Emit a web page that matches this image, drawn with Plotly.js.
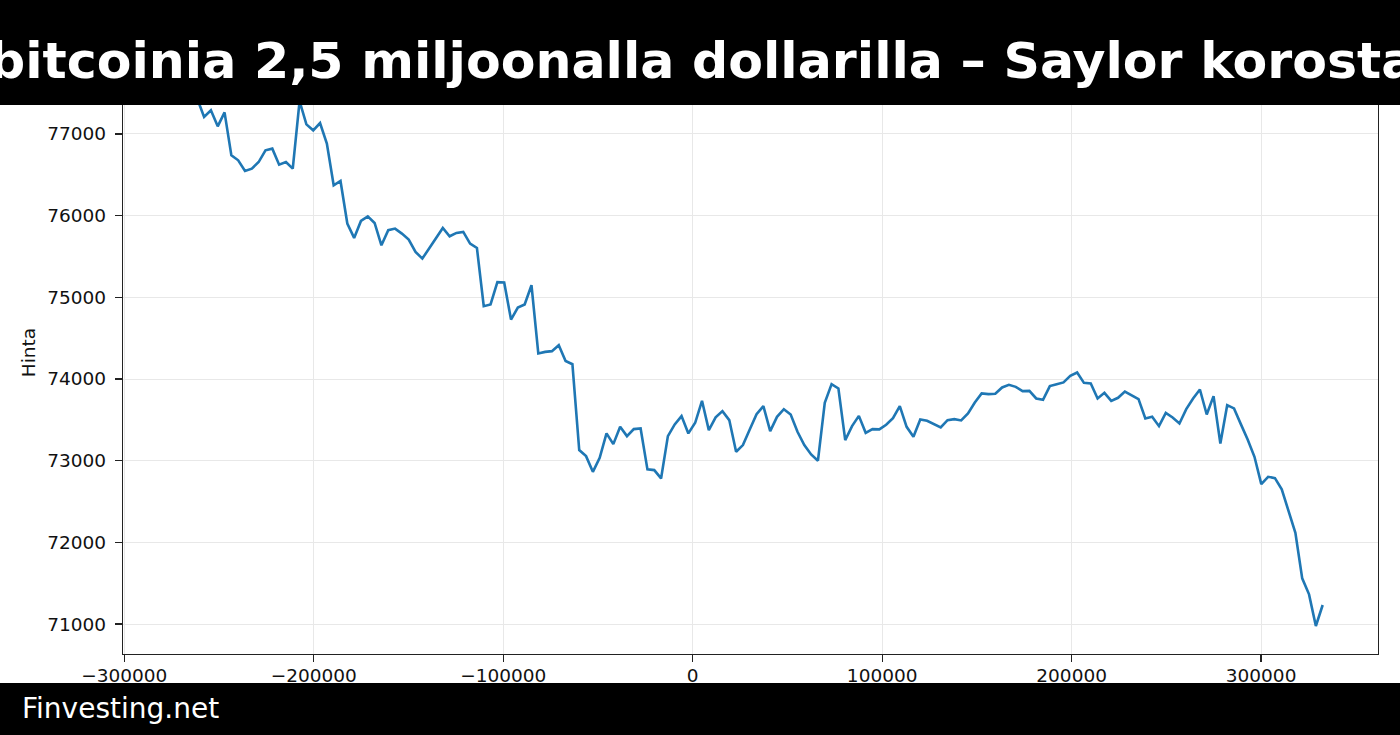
<!DOCTYPE html>
<html>
<head>
<meta charset="utf-8">
<script src="https://cdn.plot.ly/plotly-3.0.1.min.js"></script>
<style>
  body { margin: 0; background: #fff; }
  #chart { width: 1400px; height: 735px; }
</style>
</head>
<body>
<div id="chart"></div>
<script>
// Hourly price points over one week (169 points), x = seconds offset
var startSec = -272300;
var stepSec = 3600;
var hinta = [
    77680, 77560, 77520, 77430,
    77207, 77289, 77093, 77264, 76738, 76677, 76546, 76575, 76656, 76800,
    76820, 76624, 76656, 76575, 77400, 77117, 77044, 77133, 76881, 76371,
    76424, 75903, 75727, 75935, 75990, 75910,
    75637, 75821, 75841, 75780, 75707, 75555, 75474, 75597, 75719, 75849,
    75747, 75788, 75800, 75658, 75604, 74891, 74912, 75185, 75181, 74728,
    74875, 74912, 75148, 74313, 74332, 74341, 74414, 74220, 74181,
    73130, 73056, 72864, 73036, 73334, 73203, 73415, 73301, 73387, 73395,
    72894, 72885, 72783, 73301, 73444, 73546, 73334, 73464, 73733, 73374,
    73530, 73607, 73497, 73109, 73191, 73383, 73570,
    73668, 73362, 73537, 73631, 73566, 73354, 73191, 73077, 73000, 73708,
    73937, 73884, 73252, 73423, 73549, 73341, 73387, 73383,
    73440, 73520, 73668, 73415, 73293, 73505, 73488, 73448, 73407, 73497,
    73509, 73493, 73578, 73713, 73823, 73815, 73819, 73897, 73929, 73904,
    73852, 73855, 73762, 73745, 73913, 73937, 73958, 74039, 74080, 73953,
    73945, 73762, 73831, 73733, 73770, 73847, 73802, 73753, 73517, 73537,
    73423, 73586, 73530, 73456, 73631, 73762, 73872, 73566, 73790, 73211,
    73680, 73640, 73448, 73260, 73048, 72714, 72803, 72787, 72649, 72396,
    72118, 71560, 71364, 70977, 71234
];
var aika = hinta.map(function(v, i) { return startSec + i * stepSec; });

var xTicks = [-300000, -200000, -100000, 0, 100000, 200000, 300000];
var yTicks = [71000, 72000, 73000, 74000, 75000, 76000, 77000];

var otsikko = 'bitcoinia 2,5 miljoonalla dollarilla – Saylor korostaa';
var lahde = 'Finvesting.net';

var trace = {
    x: aika,
    y: hinta,
    type: 'scatter',
    mode: 'lines',
    line: { color: '#1f77b4', width: 2.6 },
    hoverinfo: 'x+y'
};

var axisFont = { family: 'DejaVu Sans', size: 18.5, color: '#111' };

// plot area in pixels: left 123, right 1378, top 51, bottom 654
var plotH = 603, plotW = 1255;
function px2paperX(px) { return (px - 123) / plotW; }
function px2paperY(py) { return (654 - py) / plotH; }

var layout = {
    width: 1400,
    height: 735,
    margin: { l: 123, r: 22, t: 51, b: 81 },
    paper_bgcolor: '#ffffff',
    plot_bgcolor: '#ffffff',
    showlegend: false,
    xaxis: {
        range: [-300700, 361700],
        tickmode: 'array', tickvals: xTicks,
        tickformat: 'd',
        ticks: 'outside', ticklen: 7, tickwidth: 1.3, tickcolor: '#222',
        ticklabelstandoff: -3,
        showline: true, linecolor: '#222', linewidth: 1.3, mirror: true,
        showgrid: true, gridcolor: '#e8e8e8', gridwidth: 1,
        zeroline: false,
        tickfont: axisFont
    },
    yaxis: {
        range: [70634, 78015],
        tickmode: 'array', tickvals: yTicks,
        tickformat: 'd',
        ticks: 'outside', ticklen: 7, tickwidth: 1.3, tickcolor: '#222',
        ticklabelstandoff: 5,
        showline: true, linecolor: '#222', linewidth: 1.3, mirror: true,
        showgrid: true, gridcolor: '#e8e8e8', gridwidth: 1,
        zeroline: false,
        tickfont: axisFont,
        title: { text: 'Hinta', font: axisFont, standoff: 6 }
    },
    shapes: [
        // header bar
        { type: 'rect', xref: 'paper', yref: 'paper', layer: 'above',
          x0: -0.2, x1: 1.2, y0: px2paperY(105), y1: 1.2,
          fillcolor: '#000000', line: { width: 0 } },
        // footer bar
        { type: 'rect', xref: 'paper', yref: 'paper', layer: 'above',
          x0: -0.2, x1: 1.2, y0: -0.2, y1: px2paperY(683),
          fillcolor: '#000000', line: { width: 0 } }
    ],
    annotations: [
        { text: otsikko, xref: 'paper', yref: 'paper',
          x: px2paperX(-13), xanchor: 'left',
          y: px2paperY(60), yanchor: 'middle',
          showarrow: false,
          font: { family: 'DejaVu Sans', size: 50.6, color: '#ffffff', weight: 'bold' } },
        { text: lahde, xref: 'paper', yref: 'paper',
          x: px2paperX(20), xanchor: 'left',
          y: px2paperY(708), yanchor: 'middle',
          showarrow: false,
          font: { family: 'DejaVu Sans', size: 28, color: '#ffffff' } }
    ]
};

Plotly.newPlot('chart', [trace], layout, { staticPlot: true, displayModeBar: false });
</script>
</body>
</html>
